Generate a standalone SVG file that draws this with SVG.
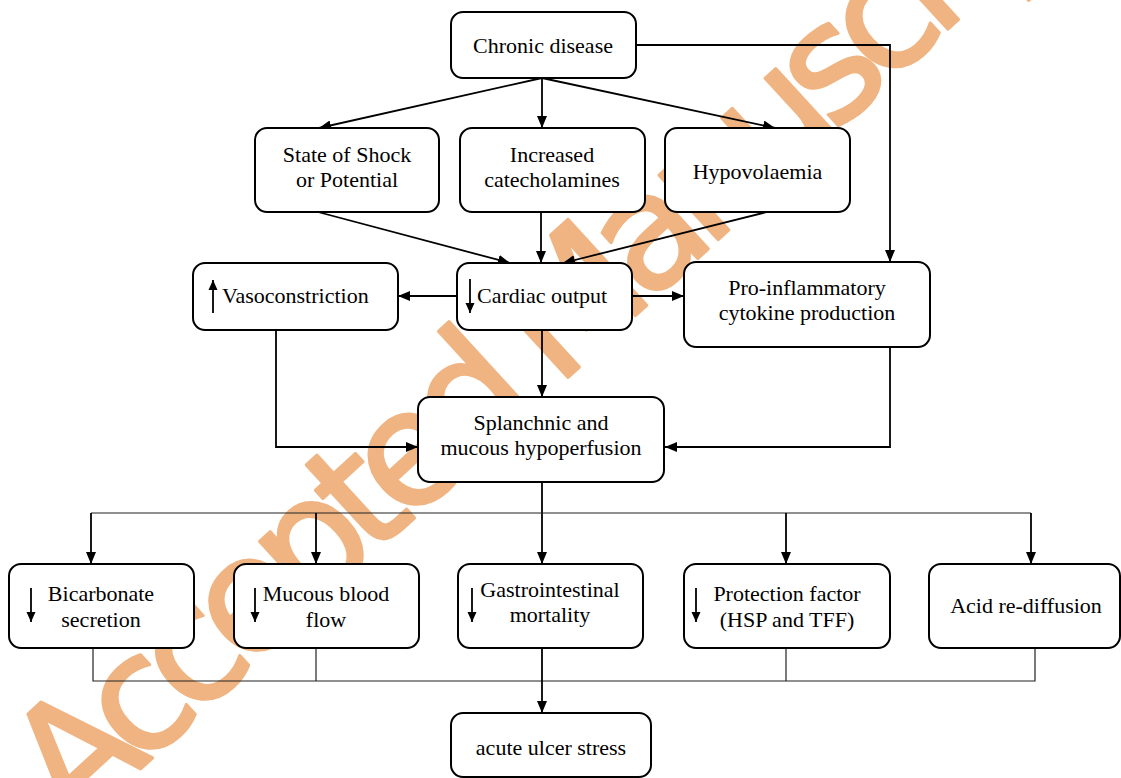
<svg xmlns="http://www.w3.org/2000/svg" width="1121" height="778" viewBox="0 0 1121 778">
<style>
.box{fill:#fff;stroke:#000;stroke-width:2}
.t{font-family:"Liberation Serif","Times New Roman",serif;font-size:22px;fill:#000;text-anchor:middle}
.ts{font-family:"Liberation Serif","Times New Roman",serif;font-size:22px;fill:#000;text-anchor:start}
.c{fill:none;stroke:#000;stroke-width:1.8}
.c2{fill:none;stroke:#222;stroke-width:1.2}
.sym{fill:none;stroke:#000;stroke-width:1.8}
.wm{font-family:"DejaVu Sans",sans-serif;font-size:160px;fill:#F0B482;stroke:#F0B482;stroke-width:3;stroke-linejoin:round}
</style>
<defs>
<marker id="ah" markerUnits="userSpaceOnUse" markerWidth="12" markerHeight="10" refX="12" refY="5" orient="auto">
<path d="M0,0 L12,5 L0,10 z" fill="#000"/>
</marker>
<marker id="sh" markerUnits="userSpaceOnUse" markerWidth="10" markerHeight="10" refX="10" refY="5" orient="auto">
<path d="M0,0.5 L10,5 L0,9.5 z" fill="#000"/>
</marker>
</defs>
<rect width="1121" height="778" fill="#fff"/>
<text id="watermark" class="wm" transform="translate(73,831) rotate(-42.5)" textLength="1400" lengthAdjust="spacing">Accepted Manuscript</text>
<g id="connectors">
<line class="c" x1="542" y1="78" x2="319" y2="128" marker-end="url(#ah)"/>
<line class="c" x1="542" y1="78" x2="542" y2="128" marker-end="url(#ah)"/>
<line class="c" x1="542" y1="78" x2="775" y2="128" marker-end="url(#ah)"/>
<polyline class="c" points="636,45 890,45 890,262" marker-end="url(#ah)"/>
<line class="c" x1="318" y1="212" x2="510" y2="263" marker-end="url(#ah)"/>
<line class="c" x1="541" y1="212" x2="541" y2="263" marker-end="url(#ah)"/>
<line class="c" x1="767" y1="212" x2="563" y2="263" marker-end="url(#ah)"/>
<line class="c" x1="457" y1="296" x2="398" y2="296" marker-end="url(#ah)"/>
<line class="c" x1="632" y1="296" x2="684" y2="296" marker-end="url(#ah)"/>
<line class="c" x1="542" y1="330" x2="542" y2="397" marker-end="url(#ah)"/>
<polyline class="c" points="276,330 276,447 418,447" marker-end="url(#ah)"/>
<polyline class="c" points="890,347 890,447 665,447" marker-end="url(#ah)"/>
<line class="c" x1="542" y1="482" x2="542" y2="564" marker-end="url(#ah)"/>
<line class="c2" x1="91" y1="513" x2="1031" y2="513"/>
<line class="c" x1="91" y1="513" x2="91" y2="564" marker-end="url(#ah)"/>
<line class="c" x1="316" y1="513" x2="316" y2="564" marker-end="url(#ah)"/>
<line class="c" x1="786" y1="513" x2="786" y2="564" marker-end="url(#ah)"/>
<line class="c" x1="1031" y1="513" x2="1031" y2="564" marker-end="url(#ah)"/>
<polyline class="c2" points="93,648 93,681 1035,681 1035,648"/>
<line class="c2" x1="316" y1="648" x2="316" y2="681"/>
<line class="c2" x1="786" y1="648" x2="786" y2="681"/>
<line class="c" x1="542" y1="648" x2="542" y2="713" marker-end="url(#ah)"/>
</g>
<g id="chronic"><rect class="box" x="451" y="12" width="185" height="66" rx="12"/><text class="t" x="543" y="53">Chronic disease</text></g>
<g id="shock"><rect class="box" x="255" y="128" width="184" height="84" rx="12"/><text class="t" x="347" y="162">State of Shock</text><text class="t" x="347" y="187">or Potential</text></g>
<g id="catecholamines"><rect class="box" x="460" y="128" width="185" height="84" rx="12"/><text class="t" x="552" y="162">Increased</text><text class="t" x="552" y="187">catecholamines</text></g>
<g id="hypovolaemia"><rect class="box" x="665" y="128" width="185" height="84" rx="12"/><text class="t" x="757.5" y="179">Hypovolaemia</text></g>
<g id="vasoconstriction"><rect class="box" x="193" y="263" width="205" height="67" rx="12"/><line class="sym" x1="213" y1="313" x2="213" y2="280" marker-end="url(#sh)"/><text class="ts" x="222" y="303">Vasoconstriction</text></g>
<g id="cardiac"><rect class="box" x="457" y="263" width="175" height="67" rx="12"/><line class="sym" x1="470" y1="279" x2="470" y2="313" marker-end="url(#sh)"/><text class="ts" x="477" y="303">Cardiac output</text></g>
<g id="proinflammatory"><rect class="box" x="684" y="262" width="246" height="85" rx="12"/><text class="t" x="807" y="295">Pro-inflammatory</text><text class="t" x="807" y="320">cytokine production</text></g>
<g id="splanchnic"><rect class="box" x="418" y="397" width="246" height="85" rx="12"/><text class="t" x="541" y="430">Splanchnic and</text><text class="t" x="541" y="455">mucous hypoperfusion</text></g>
<g id="bicarbonate"><rect class="box" x="9" y="564" width="185" height="84" rx="12"/><line class="sym" x1="31" y1="588" x2="31" y2="622" marker-end="url(#sh)"/><text class="t" x="101" y="601">Bicarbonate</text><text class="t" x="101" y="627">secretion</text></g>
<g id="mucousflow"><rect class="box" x="234" y="564" width="185" height="84" rx="12"/><line class="sym" x1="255" y1="588" x2="255" y2="622" marker-end="url(#sh)"/><text class="t" x="326" y="601">Mucous blood</text><text class="t" x="326" y="627">flow</text></g>
<g id="gastro"><rect class="box" x="458" y="564" width="185" height="84" rx="12"/><line class="sym" x1="472" y1="588" x2="472" y2="622" marker-end="url(#sh)"/><text class="t" x="550" y="597">Gastrointestinal</text><text class="t" x="550" y="622">mortality</text></g>
<g id="protection"><rect class="box" x="684" y="564" width="206" height="84" rx="12"/><line class="sym" x1="696" y1="588" x2="696" y2="622" marker-end="url(#sh)"/><text class="t" x="787" y="601">Protection factor</text><text class="t" x="787" y="627">(HSP and TFF)</text></g>
<g id="acid"><rect class="box" x="929" y="564" width="191" height="84" rx="12"/><text class="t" x="1026" y="613">Acid re-diffusion</text></g>
<g id="acute"><rect class="box" x="451" y="713" width="200" height="64" rx="12"/><text class="t" x="551" y="755">acute ulcer stress</text></g>
</svg>
